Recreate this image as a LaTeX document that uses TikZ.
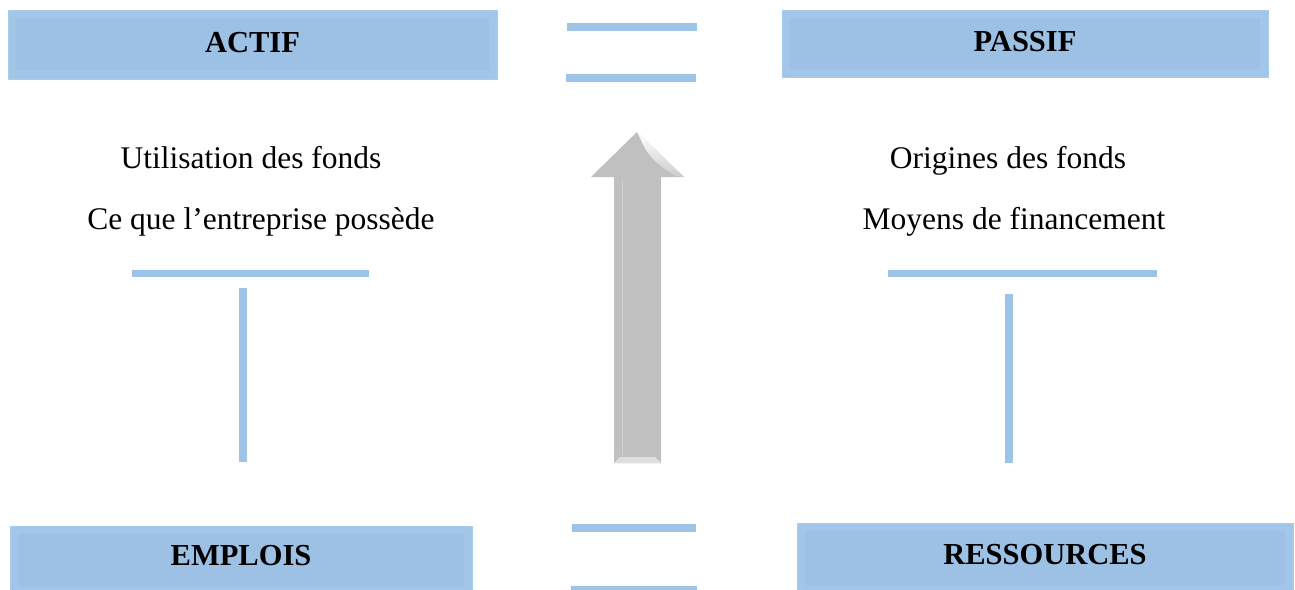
\documentclass[tikz,border=0pt]{standalone}
\usepackage{fontspec}
\setmainfont{Liberation Serif}
\begin{document}
\begin{tikzpicture}[x=1pt,y=-1pt,
  every node/.style={inner sep=0pt, outer sep=0pt},
  bevelbox/.style={rectangle, fill=boxouter, draw=boxedge, line width=0.6pt,
    font=\fontsize{30.5}{36}\selectfont\bfseries,
    text height=20pt, text depth=5pt,
    path picture={
      \fill[boxinner] ([shift={(8pt,8pt)}]path picture bounding box.south west)
        rectangle ([shift={(-8pt,-8pt)}]path picture bounding box.north east);
      \draw[boxedge, line width=0.5pt]
        (path picture bounding box.south west) -- ++(8pt,8pt)
        (path picture bounding box.north west) -- ++(8pt,-8pt)
        (path picture bounding box.south east) -- ++(-8pt,8pt)
        (path picture bounding box.north east) -- ++(-8pt,-8pt);
    }},
  bar/.style={fill=barblue},
  plain/.style={font=\fontsize{31.5}{38}\selectfont, anchor=base}
]
\definecolor{boxouter}{HTML}{A2C6E8}
\definecolor{boxinner}{HTML}{9CC1E4}
\definecolor{boxedge}{HTML}{AACCEB}
\definecolor{barblue}{HTML}{9DC3E6}
\definecolor{arrowgray}{HTML}{C0C0C0}
\useasboundingbox (0,0) rectangle (1295,589);

% header boxes
\node[bevelbox, minimum width=489pt, minimum height=69pt] (actif) at (252.5,44.5) {ACTIF};
\node[bevelbox, minimum width=486pt, minimum height=67pt] (passif) at (1025,43.5) {PASSIF};
\node[bevelbox, minimum width=462pt, minimum height=68pt, text depth=10pt] (emplois) at (241,560) {EMPLOIS};
\node[bevelbox, minimum width=496pt, minimum height=70pt, text depth=8pt] (ressources) at (1045,558) {RESSOURCES};

% equal signs between the headers
\fill[bar] (567,23) rectangle (697,31);
\fill[bar] (566,74) rectangle (696,82);
\fill[bar] (572,524) rectangle (696,532);
\fill[bar] (571,586) rectangle (697,594);

% descriptions
\node[plain] (util) at (251,168) {Utilisation des fonds};
\node[plain] (poss) at (261,229) {Ce que l’entreprise possède};
\node[plain] (orig) at (1008,168) {Origines des fonds};
\node[plain] (moy) at (1014,229) {Moyens de financement};

% T-shaped accounts
\fill[bar] (132,270) rectangle (369,277);
\fill[bar] (239,288) rectangle (247,462);
\fill[bar] (888,270) rectangle (1157,277);
\fill[bar] (1005,294) rectangle (1013,463);

% central upward arrow
\fill[arrowgray] (614,463) -- (614,177) -- (591,177) -- (637,132)
  -- (684,177) -- (661,177) -- (661,463) -- cycle;
\fill[white!50!arrowgray] (614,463) -- (620,457) -- (655,457) -- (661,463) -- cycle;
\draw[white!30!arrowgray, line width=0.6pt] (622,180) -- (622,455);
\shade[top color=white, bottom color=arrowgray!80]
  (637,132) -- (684,177) -- (676,176)
  .. controls (662,168) and (648,158) .. (641,140) -- cycle;
\end{tikzpicture}
\end{document}
